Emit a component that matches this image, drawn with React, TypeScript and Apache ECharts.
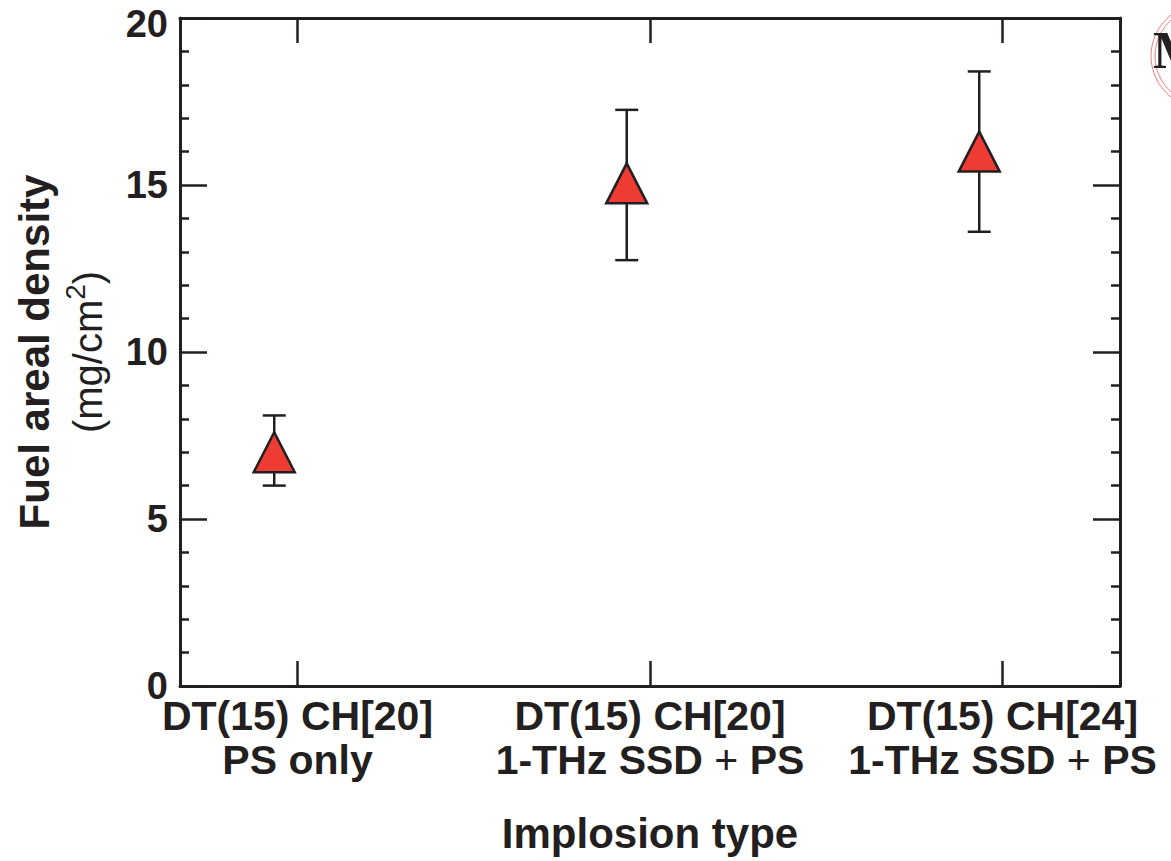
import React, { useEffect, useRef } from "react";
import * as echarts from "echarts";

// ---- data ----
const categories = [
  "DT(15) CH[20]\nPS only",
  "DT(15) CH[20]\n1-THz SSD + PS",
  "DT(15) CH[24]\n1-THz SSD + PS",
];
const categoryPositions = [1, 2, 3];
const arealDensity = [7.0, 15.05, 16.0];
const errorLow = [6.0, 12.75, 13.6];
const errorHigh = [8.1, 17.25, 18.4];
const yTickValues = [0, 5, 10, 15, 20];

const INK = "#231F20";
const RED = "#EE3B33";
const FONT = "Liberation Sans, Arial, sans-serif";
const MARKER_SHIFT = -0.066;

export default function App() {
  const ref = useRef<HTMLDivElement>(null);

  useEffect(() => {
    if (!ref.current) return;
    const chart = echarts.init(ref.current, null, { renderer: "svg" });

    const points = categoryPositions.map((c, i) => [c + MARKER_SHIFT, arealDensity[i], errorLow[i], errorHigh[i]]);
    const yMax = yTickValues[yTickValues.length - 1];

    const xBase: any = {
      type: "value",
      min: 2 / 3,
      max: 10 / 3,
      axisLine: { show: true, onZero: false, lineStyle: { color: INK, width: 3 } },
      axisTick: { show: true, inside: true, length: 25, customValues: categoryPositions, lineStyle: { color: INK, width: 2.5 } },
      splitLine: { show: false },
    };
    const yBase: any = {
      type: "value",
      min: 0,
      max: 20,
      interval: 5,
      axisLine: { show: true, lineStyle: { color: INK, width: 3 } },
      axisTick: { show: true, inside: true, length: 27, lineStyle: { color: INK, width: 2.5 } },
      minorTick: { show: true, splitNumber: 5, length: 9, lineStyle: { color: INK, width: 2.5 } },
      splitLine: { show: false },
    };

    chart.setOption({
      animation: false,
      backgroundColor: "#ffffff",
      grid: { left: 180, right: 51, top: 18, bottom: 175, containLabel: false, outerBoundsMode: "none" },
      xAxis: [
        {
          ...xBase,
          position: "bottom",
          name: "Implosion type",
          nameLocation: "middle",
          nameGap: 126,
          nameTextStyle: { fontFamily: FONT, fontWeight: "bold", fontSize: 42, color: INK },
          axisLabel: {
            show: true,
            customValues: categoryPositions,
            margin: 8,
            fontFamily: FONT,
            fontWeight: "bold",
            fontSize: 41,
            lineHeight: 44,
            color: INK,
            formatter: (v: number) => {
              const idx = categoryPositions.indexOf(Math.round(v));
              if (idx < 0) return "";
              return categories[idx].replace("+", "{p|+}");
            },
            rich: {
              p: { fontFamily: FONT, fontWeight: "normal", fontSize: 41, lineHeight: 44, color: INK },
            },
          },
        },
        { ...xBase, position: "top", axisLabel: { show: false } },
      ],
      yAxis: [
        {
          ...yBase,
          position: "left",
          name: "{a|Fuel areal density}\n{b|(mg/cm}{sup|2}{b|)}",
          nameLocation: "middle",
          nameRotate: 90,
          nameGap: 66,
          nameTextStyle: {
            color: INK,
            fontFamily: FONT,
            rich: {
              a: { fontSize: 42, fontWeight: "bold", lineHeight: 53, color: INK, fontFamily: FONT },
              b: { fontSize: 40, fontWeight: "normal", lineHeight: 53, color: INK, fontFamily: FONT },
              sup: { fontSize: 28, fontWeight: "normal", lineHeight: 30, verticalAlign: "top", color: INK, fontFamily: FONT },
            },
          },
          axisLabel: {
            show: true,
            margin: 12,
            fontFamily: FONT,
            fontWeight: "bold",
            fontSize: 38,
            color: INK,
            customValues: yTickValues,
            formatter: (v: number) => (v === yMax ? `{top|${v}}` : `${v}`),
            rich: {
              top: { fontFamily: FONT, fontWeight: "bold", fontSize: 38, lineHeight: 20, padding: [12, 0, 0, 0], color: INK },
            },
          },
        },
        { ...yBase, position: "right", axisLabel: { show: false } },
      ],
      series: [
        {
          type: "custom",
          xAxisIndex: 0,
          yAxisIndex: 0,
          data: points,
          z: 2,
          renderItem: (params: any, api: any) => {
            const x = api.value(0);
            const lo = api.coord([x, api.value(2)]);
            const hi = api.coord([x, api.value(3)]);
            const half = 11.5;
            const style = { stroke: INK, lineWidth: 2.5 };
            return {
              type: "group",
              children: [
                { type: "line", shape: { x1: lo[0], y1: lo[1], x2: hi[0], y2: hi[1] }, style },
                { type: "line", shape: { x1: lo[0] - half, y1: lo[1], x2: lo[0] + half, y2: lo[1] }, style },
                { type: "line", shape: { x1: hi[0] - half, y1: hi[1], x2: hi[0] + half, y2: hi[1] }, style },
              ],
            };
          },
        },
        {
          type: "scatter",
          xAxisIndex: 0,
          yAxisIndex: 0,
          z: 3,
          data: points.map((p) => [p[0], p[1]]),
          symbol: "triangle",
          symbolSize: [41, 40],
          itemStyle: { color: RED, borderColor: INK, borderWidth: 2.5, opacity: 1 },
        },
      ],
      graphic: [
        { type: "circle", shape: { cx: 1203, cy: 56, r: 52 }, style: { fill: "none", stroke: "#F08080", lineWidth: 1 } },
        { type: "circle", shape: { cx: 1203, cy: 56, r: 48 }, style: { fill: "none", stroke: "#F08080", lineWidth: 1 } },
        { type: "text", x: 1153, y: 24, style: { text: "M", font: "bold 52px 'Liberation Serif', serif", fill: INK } },
      ],
    });

    return () => chart.dispose();
  }, []);

  return (
    <div
      ref={ref}
      style={{ position: "absolute", left: 0, top: 0, width: 1171, height: 861, background: "#fff" }}
    />
  );
}
